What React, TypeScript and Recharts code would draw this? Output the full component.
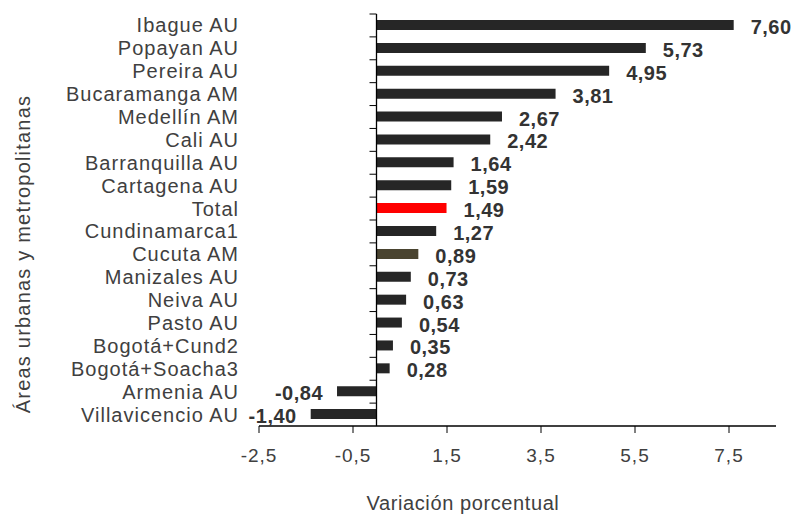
import React from 'react';
import { BarChart, Bar, XAxis, YAxis, Cell, LabelList, ReferenceLine } from 'recharts';

// Categories top to bottom, with their percent change
const areas = [
  'Ibague AU',
  'Popayan AU',
  'Pereira AU',
  'Bucaramanga AM',
  'Medellín AM',
  'Cali AU',
  'Barranquilla AU',
  'Cartagena AU',
  'Total',
  'Cundinamarca1',
  'Cucuta AM',
  'Manizales AU',
  'Neiva AU',
  'Pasto AU',
  'Bogotá+Cund2',
  'Bogotá+Soacha3',
  'Armenia AU',
  'Villavicencio AU',
];
const variation = [7.6, 5.73, 4.95, 3.81, 2.67, 2.42, 1.64, 1.59, 1.49, 1.27, 0.89, 0.73, 0.63, 0.54, 0.35, 0.28, -0.84, -1.4];
const xTicks = [-2.5, -0.5, 1.5, 3.5, 5.5, 7.5];

const barColor = (name: string) => {
  if (name === 'Total') return '#ff0000';
  if (name === 'Cucuta AM') return '#4a4430';
  return '#262626';
};

const data = areas.map((name, i) => ({ name, value: variation[i] }));

const fmt = (v: number, digits: number) => v.toFixed(digits).replace('.', ',');

const TEXT = '#404040';

const CategoryTick = (props: any) => {
  const { x, y, payload } = props;
  return (
    <text x={x} y={y} dx={-18} textAnchor="end" dominantBaseline="central" fill={TEXT} fontSize={20} letterSpacing={1}>
      {payload.value}
    </text>
  );
};

const ValueTick = (props: any) => {
  const { x, y, payload } = props;
  return (
    <text x={x} y={y} dy={27} textAnchor="middle" fill={TEXT} fontSize={19} letterSpacing={1}>
      {fmt(payload.value, 1)}
    </text>
  );
};

const ValueLabel = (props: any) => {
  const { x, y, width, height, value } = props;
  const left = Math.min(x, x + width);
  const right = Math.max(x, x + width);
  const neg = value < 0;
  return (
    <text
      x={neg ? left - 14 : right + 17}
      y={y + height / 2 + 2}
      textAnchor={neg ? 'end' : 'start'}
      dominantBaseline="central"
      fill="#333333"
      fontSize={20}
      fontWeight="bold"
      letterSpacing={0.5}
    >
      {fmt(value, 2)}
    </text>
  );
};

// Zero axis with small ticks on the category boundaries
const ZeroAxis = (props: any) => {
  const { x1, y1, y2 } = props;
  const top = Math.min(y1, y2);
  const bottom = Math.max(y1, y2);
  const band = (bottom - top) / areas.length;
  return (
    <g>
      <line x1={x1} y1={top} x2={x1} y2={bottom} stroke="#000" strokeWidth={1.3} />
      {areas.map((_, i) => (
        <line key={i} x1={x1 - 7} y1={top + i * band} x2={x1} y2={top + i * band} stroke="#000" strokeWidth={1} />
      ))}
    </g>
  );
};

export default function App() {
  return (
    <div style={{ position: 'absolute', left: 0, top: 0, width: 793, height: 514, background: '#fff', fontFamily: 'Arial, "Liberation Sans", sans-serif' }}>
      <BarChart
        width={793}
        height={514}
        data={data}
        layout="vertical"
        margin={{ top: 14, right: 17, left: 0, bottom: 48 }}
        barCategoryGap={0}
      >
        <XAxis
          type="number"
          domain={[-2.5, 8.5]}
          ticks={xTicks}
          height={40}
          axisLine={{ stroke: '#000', strokeWidth: 1.3 }}
          tickLine={{ stroke: '#000' }}
          tickSize={7}
          tick={<ValueTick />}
          interval={0}
        />
        <YAxis
          type="category"
          dataKey="name"
          width={259}
          axisLine={false}
          tickLine={false}
          tickSize={0}
          tick={<CategoryTick />}
          interval={0}
        />
        <Bar dataKey="value" barSize={10} isAnimationActive={false}>
          {data.map((d) => (
            <Cell key={d.name} fill={barColor(d.name)} />
          ))}
          <LabelList dataKey="value" content={<ValueLabel />} />
        </Bar>
        <ReferenceLine x={0} shape={<ZeroAxis />} />
      </BarChart>
      <div style={{ position: 'absolute', left: 363, top: 492, width: 200, textAlign: 'center', fontSize: 20, letterSpacing: 0.6, color: TEXT, whiteSpace: 'nowrap' }}>
        Variación porcentual
      </div>
      <div
        style={{
          position: 'absolute',
          left: 23,
          top: 254,
          transform: 'translate(-50%, -50%) rotate(-90deg)',
          fontSize: 20,
          letterSpacing: 1.2,
          color: TEXT,
          whiteSpace: 'nowrap',
        }}
      >
        Áreas urbanas y metropolitanas
      </div>
    </div>
  );
}
